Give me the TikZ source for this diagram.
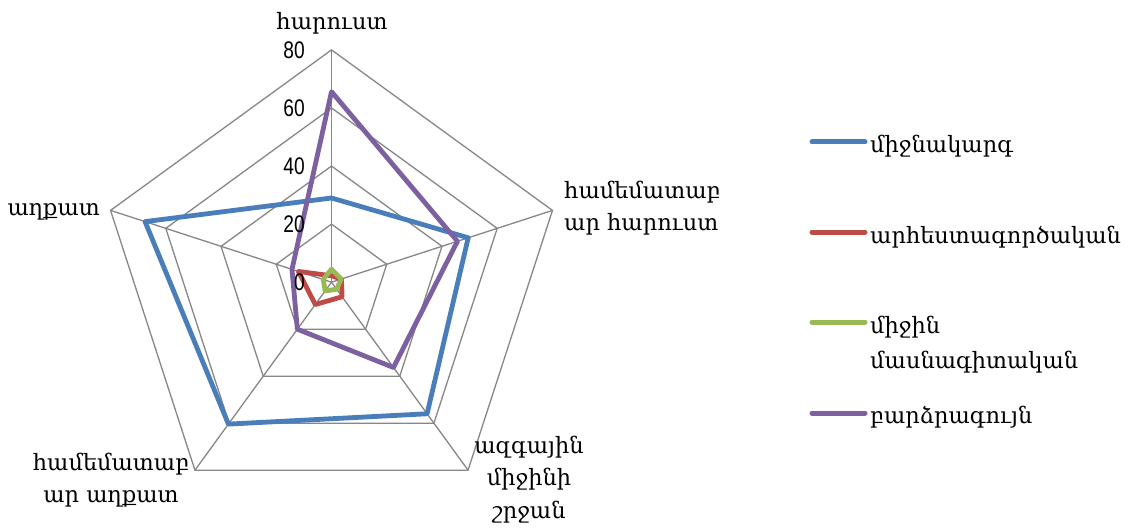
\documentclass[tikz,border=0pt]{standalone}
\usepackage{fontspec}
\setmainfont{DejaVu Serif}
\newfontfamily\numfont[FakeStretch=0.8]{Liberation Sans}
\definecolor{gridgray}{HTML}{878787}
\definecolor{sblue}{HTML}{4A7EBB}
\definecolor{sred}{HTML}{BE4B48}
\definecolor{sgreen}{HTML}{98B954}
\definecolor{spurple}{HTML}{7D60A0}
\begin{document}
\begin{tikzpicture}[x=1pt,y=1pt,
  gridline/.style={draw=gridgray, line width=1.3pt},
  series/.style={line width=4.8pt, line join=round},
  lbl/.style={font=\fontsize{22.5}{32.5}\selectfont, inner sep=0pt},
  ticklbl/.style={font=\numfont\fontsize{24}{24}\selectfont, inner sep=0pt, anchor=east},
  legline/.style={line width=5pt, line cap=round},
  legtext/.style={font=\fontsize{22.5}{35}\selectfont, inner sep=0pt, anchor=base west}]
\useasboundingbox (0,0) rectangle (1134,531);
\fill[white] (0,0) rectangle (1134,531);
\begin{scope}[shift={(331.5pt,248.8pt)}, x=2.904pt, y=2.904pt]
  \coordinate (O) at (0,0);
  \foreach \a in {90,18,-54,-126,162} \draw[gridline] (O) -- (\a:80);
  \foreach \r in {20,40,60,80}
    \draw[gridline] (90:\r) -- (18:\r) -- (-54:\r) -- (-126:\r) -- (162:\r) -- cycle;
  \draw[series, sblue] (90:29) -- (18:49.5) -- (-54:56) -- (-126:60.4) -- (162:67.5) -- cycle;
  \draw[series, sred] (90:2.2) -- (18:3.6) -- (-54:6.2) -- (-126:9.5) -- (162:12) -- cycle;
  \draw[series, sgreen] (90:4.5) -- (18:3.5) -- (-54:3) -- (-126:3.7) -- (162:3) -- cycle;
  \draw[series, spurple] (90:65.6) -- (18:45.6) -- (-54:36.3) -- (-126:20) -- (162:14.3) -- cycle;
\end{scope}
% tick labels
\node[ticklbl] (t0)  at (305,248.8) {0};
\node[ticklbl] (t20) at (305,306.9) {20};
\node[ticklbl] (t40) at (305,364.9) {40};
\node[ticklbl] (t60) at (305,423.0) {60};
\node[ticklbl] (t80) at (305,481.1) {80};
% axis labels
\node[lbl, anchor=base] (ax1) at (332,501) {հարուստ};
\node[lbl, anchor=base west] (ax2) at (564,333) {\begin{tabular}[t]{@{}l@{}}համեմատաբ\\ար հարուստ\end{tabular}};
\node[lbl, anchor=base] (ax3) at (529,78) {\begin{tabular}[t]{@{}c@{}}ազգային\\միջինի\\շրջան\end{tabular}};
\node[lbl, anchor=base] (ax4) at (111,61) {\begin{tabular}[t]{@{}c@{}}համեմատաբ\\ար աղքատ\end{tabular}};
\node[lbl, anchor=base east] (ax5) at (100,316) {աղքատ};
% legend
\coordinate (l1a) at (812,389); \coordinate (l1b) at (865,389);
\coordinate (l2a) at (812,299); \coordinate (l2b) at (865,299);
\coordinate (l3a) at (812,209); \coordinate (l3b) at (865,209);
\coordinate (l4a) at (812,118); \coordinate (l4b) at (865,118);
\draw[legline, sblue] (l1a) -- (l1b);
\draw[legline, sred] (l2a) -- (l2b);
\draw[legline, sgreen] (l3a) -- (l3b);
\draw[legline, spurple] (l4a) -- (l4b);
\node[legtext] (g1) at (870,378) {միջնակարգ};
\node[legtext] (g2) at (870,288) {արհեստագործական};
\node[legtext] (g3) at (870,198) {\begin{tabular}[t]{@{}l@{}}միջին\\մասնագիտական\end{tabular}};
\node[legtext] (g4) at (870,108) {բարձրագույն};
\end{tikzpicture}
\end{document}
